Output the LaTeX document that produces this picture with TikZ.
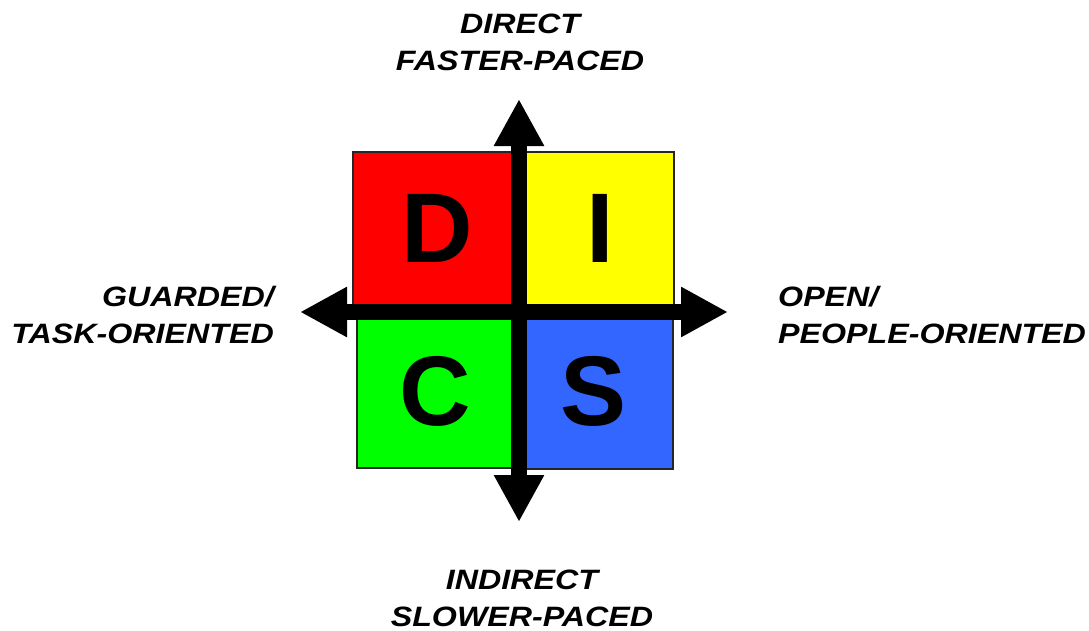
\documentclass[tikz,border=0pt]{standalone}
\usepackage{fontspec}
\setmainfont{Liberation Sans}
\newfontfamily\axisfont[FakeStretch=1.15]{Liberation Sans}
\usetikzlibrary{arrows.meta}
\definecolor{discred}{HTML}{FF0000}
\definecolor{discyellow}{HTML}{FFFF00}
\definecolor{discgreen}{HTML}{00FF00}
\definecolor{discblue}{HTML}{3366FF}
\tikzset{
  quad/.style={draw=black!85, line width=1.5pt},
  bigletter/.style={inner sep=0pt, font=\fontsize{99}{99}\selectfont\bfseries},
  axislabel/.style={inner sep=0pt, font=\axisfont\fontsize{28}{37}\selectfont\bfseries\itshape},
  axis/.style={line width=16pt, {Triangle[length=47pt 0 0,width=47pt 0 0]}-{Triangle[length=47pt 0 0,width=47pt 0 0]}}
}
\begin{document}
\begin{tikzpicture}[x=1pt,y=-1pt]
\useasboundingbox (0,0) rectangle (1089,630);
% quadrants
\filldraw[quad, fill=discred] (353,152) rectangle (515,308);
\filldraw[quad, fill=discyellow] (523,152) rectangle (674,308);
\filldraw[quad, fill=discgreen] (357,316) rectangle (515,468);
\filldraw[quad, fill=discblue] (523,316) rectangle (673,469);
\node[bigletter] (D) at (437,228) {D};
\node[bigletter] (I) at (600,228) {I};
\node[bigletter] (C) at (435,391) {C};
\node[bigletter] (S) at (594,391) {S};
% axes
\coordinate (top) at (519,99);
\coordinate (bottom) at (519,522);
\coordinate (left) at (300,312);
\coordinate (right) at (728,312);
\draw[axis] (bottom) -- (top);
\draw[axis] (left) -- (right);
% labels
\node[axislabel, align=center, anchor=base] (north) at (520,70) {DIRECT\\FASTER-PACED};
\node[axislabel, align=center, anchor=base] (south) at (522,626) {INDIRECT\\SLOWER-PACED};
\node[axislabel, align=right, anchor=base east] (west) at (274,343) {GUARDED/\\TASK-ORIENTED};
\node[axislabel, align=left, anchor=base west] (east) at (778,343) {OPEN/\\PEOPLE-ORIENTED};
\end{tikzpicture}
\end{document}
